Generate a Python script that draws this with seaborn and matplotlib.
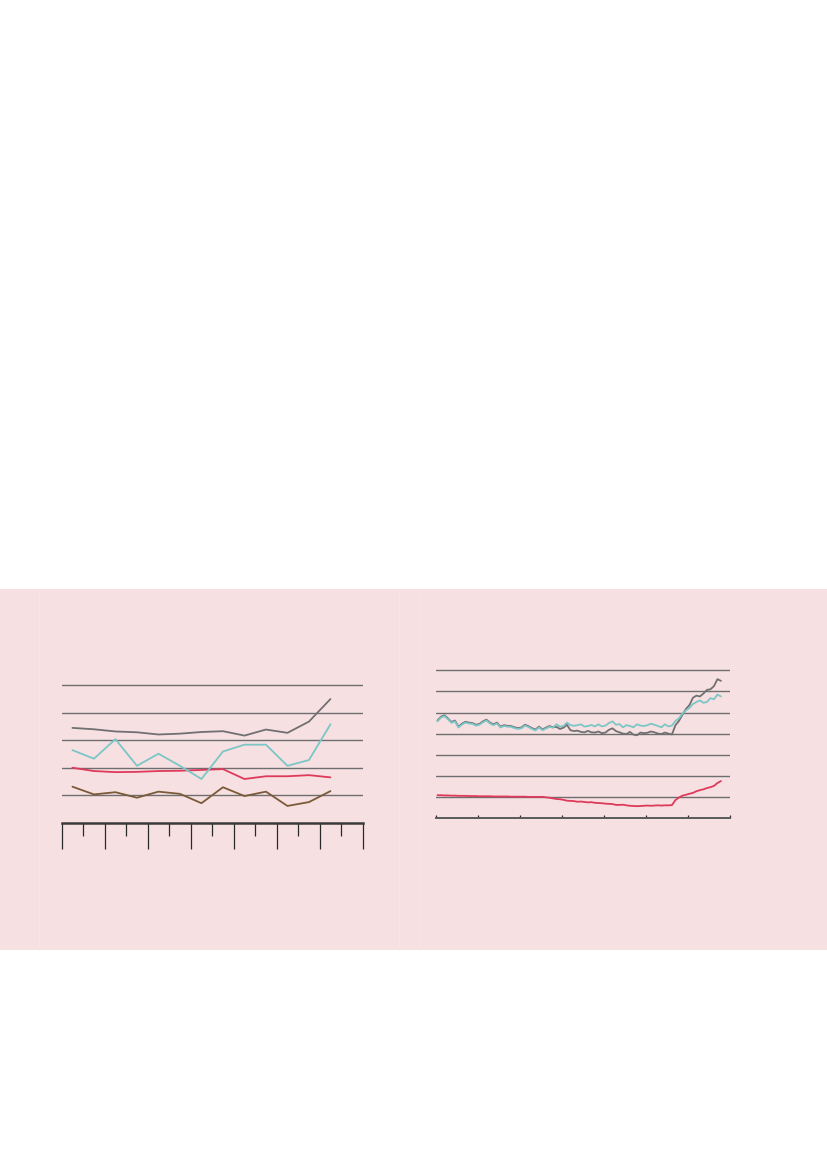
import numpy as np
import pandas as pd
import matplotlib
matplotlib.use("Agg")
import matplotlib.pyplot as plt
import seaborn as sns
from matplotlib.patches import Rectangle

# left panel: 13 periods, values in grid units
left_period = np.arange(13) + 0.5
left_grey = [3.45, 3.40, 3.32, 3.29, 3.21, 3.24, 3.30, 3.33, 3.17, 3.39, 3.27, 3.68, 4.50]
left_teal = [2.64, 2.33, 3.04, 2.07, 2.51, 2.07, 1.59, 2.59, 2.84, 2.84, 2.07, 2.28, 3.58]
left_red = [2.00, 1.88, 1.84, 1.85, 1.88, 1.89, 1.92, 1.95, 1.59, 1.69, 1.69, 1.73, 1.65]
left_brown = [1.31, 1.03, 1.11, 0.91, 1.13, 1.05, 0.71, 1.29, 0.97, 1.13, 0.61, 0.75, 1.15]

# right panel: monthly series
right_month = np.arange(82)
right_grey = [4.62, 4.80, 4.87, 4.72, 4.55, 4.62, 4.33, 4.47, 4.56, 4.52,
              4.50, 4.42, 4.46, 4.58, 4.66, 4.52, 4.44, 4.52, 4.33, 4.40,
              4.37, 4.36, 4.30, 4.26, 4.29, 4.42, 4.35, 4.26, 4.19, 4.33,
              4.20, 4.28, 4.36, 4.30, 4.32, 4.22, 4.28, 4.42, 4.16, 4.12,
              4.14, 4.08, 4.06, 4.13, 4.06, 4.05, 4.10, 4.02, 4.05, 4.18,
              4.25, 4.12, 4.06, 4.00, 3.98, 4.08, 3.95, 3.92, 4.05, 4.02,
              4.04, 4.10, 4.06, 4.00, 3.98, 4.05, 4.00, 3.96, 4.40, 4.60,
              4.90, 5.17, 5.35, 5.70, 5.80, 5.76, 5.90, 6.07, 6.10, 6.25,
              6.58, 6.50]
right_teal = [4.58, 4.76, 4.83, 4.68, 4.51, 4.58, 4.29, 4.43, 4.52, 4.48,
              4.46, 4.38, 4.42, 4.54, 4.62, 4.48, 4.40, 4.48, 4.29, 4.36,
              4.33, 4.32, 4.26, 4.22, 4.25, 4.38, 4.31, 4.22, 4.15, 4.29,
              4.16, 4.24, 4.32, 4.28, 4.44, 4.33, 4.36, 4.52, 4.40, 4.37,
              4.40, 4.44, 4.33, 4.36, 4.41, 4.34, 4.44, 4.34, 4.38, 4.50,
              4.58, 4.42, 4.45, 4.30, 4.40, 4.36, 4.30, 4.44, 4.38, 4.36,
              4.40, 4.47, 4.42, 4.36, 4.30, 4.44, 4.34, 4.38, 4.60, 4.72,
              4.95, 5.10, 5.22, 5.40, 5.50, 5.57, 5.46, 5.50, 5.68, 5.63,
              5.85, 5.76]
right_red = [1.08, 1.08, 1.07, 1.07, 1.06, 1.06, 1.05, 1.05, 1.05, 1.04,
             1.04, 1.04, 1.03, 1.03, 1.03, 1.03, 1.02, 1.02, 1.02, 1.02,
             1.02, 1.01, 1.01, 1.01, 1.01, 1.01, 1.00, 1.00, 1.00, 1.00,
             1.00, 0.98, 0.96, 0.93, 0.90, 0.89, 0.86, 0.82, 0.81, 0.80,
             0.77, 0.78, 0.76, 0.74, 0.75, 0.72, 0.71, 0.70, 0.68, 0.67,
             0.66, 0.62, 0.62, 0.63, 0.60, 0.58, 0.57, 0.56, 0.57, 0.58,
             0.59, 0.58, 0.59, 0.60, 0.59, 0.60, 0.60, 0.61, 0.85, 0.97,
             1.06, 1.10, 1.15, 1.19, 1.27, 1.32, 1.36, 1.42, 1.46, 1.52,
             1.66, 1.75]

GREY = "#707072"
TEAL = "#7cc6c6"
RED = "#de3a5c"
BROWN = "#7a5a38"
GRID = "#6e6e70"
PINK = "#f7e0e1"

sns.set_theme(style="white")
plt.rcParams['font.family'] = ['DejaVu Sans']

W, H = 827, 1169
fig = plt.figure(figsize=(W / 100, H / 100), dpi=100)

# pink band with faint panel seams (kept behind the axes)
fig.patches.append(Rectangle((0, 1 - 950 / H), 1, (950 - 588.5) / H,
                             transform=fig.transFigure, facecolor=PINK,
                             edgecolor="none", zorder=-2))
for sx in [39.3, 399.3, 419.3]:
    fig.add_artist(plt.Line2D([sx / W, sx / W], [1 - 950 / H, 1 - 588.5 / H],
                              transform=fig.transFigure, color="#f8e5e6",
                              lw=0.6, zorder=-1))


def px_axes(x0, x1, y_bottom, y_top_val_px, top_val, pad_val):
    # axes whose bottom edge sits at the axis line
    unit = (y_bottom - y_top_val_px) / top_val
    height = unit * (top_val + pad_val)
    return fig.add_axes([x0 / W, 1 - y_bottom / H, (x1 - x0) / W, height / H])


# ---- left chart ----
axl = px_axes(61.7, 362.7, 822.7, 685.3, 5, 0.08)
axl.set_facecolor("none")
left_df = pd.DataFrame({"period": left_period, "grey": left_grey, "teal": left_teal,
                        "red": left_red, "brown": left_brown})
for gv in [1, 2, 3, 4, 5]:
    axl.axhline(gv, color=GRID, lw=1.0, zorder=1)
for col, c in [("brown", BROWN), ("red", RED), ("teal", TEAL), ("grey", GREY)]:
    sns.lineplot(data=left_df, x="period", y=col, ax=axl, color=c, lw=1.3, zorder=3)
axl.set_xlim(0, 14)
axl.set_ylim(0, 5.08)
for s in ["top", "left", "right"]:
    axl.spines[s].set_visible(False)
axl.spines["bottom"].set_color("#3a3a3a")
axl.spines["bottom"].set_linewidth(1.8)
axl.set_xticks(np.arange(0, 15, 2))
axl.set_xticks(np.arange(1, 14, 2), minor=True)
axl.tick_params(axis="x", which="major", direction="out", length=19, width=0.9,
                color="#2a2a2a", labelbottom=False, bottom=True)
axl.tick_params(axis="x", which="minor", direction="out", length=9.5, width=0.9,
                color="#2a2a2a", bottom=True)
axl.set_yticks([])
axl.set_xlabel("")
axl.set_ylabel("")

# ---- right chart ----
axr = px_axes(435.7, 729.7, 818.0, 670.3, 7, 0.08)
axr.set_facecolor("none")
right_df = pd.DataFrame({"month": right_month, "grey": right_grey,
                         "teal": right_teal, "red": right_red})
for gv in range(1, 8):
    axr.axhline(gv, color=GRID, lw=1.0, zorder=1)
for col, c in [("red", RED), ("grey", GREY), ("teal", TEAL)]:
    sns.lineplot(data=right_df, x="month", y=col, ax=axr, color=c, lw=1.3, zorder=3)
axr.set_xlim(-0.5, 83.5)
axr.set_ylim(0, 7.08)
for s in ["top", "left", "right"]:
    axr.spines[s].set_visible(False)
axr.spines["bottom"].set_color("#5a5a5a")
axr.spines["bottom"].set_linewidth(1.4)
axr.set_xticks(np.arange(-0.5, 84, 12))
axr.tick_params(axis="x", direction="in", length=2.5, width=0.9, color="#2a2a2a",
                labelbottom=False, bottom=True)
axr.set_yticks([])
axr.set_xlabel("")
axr.set_ylabel("")

fig.savefig("out.png", dpi=100, facecolor="white")
